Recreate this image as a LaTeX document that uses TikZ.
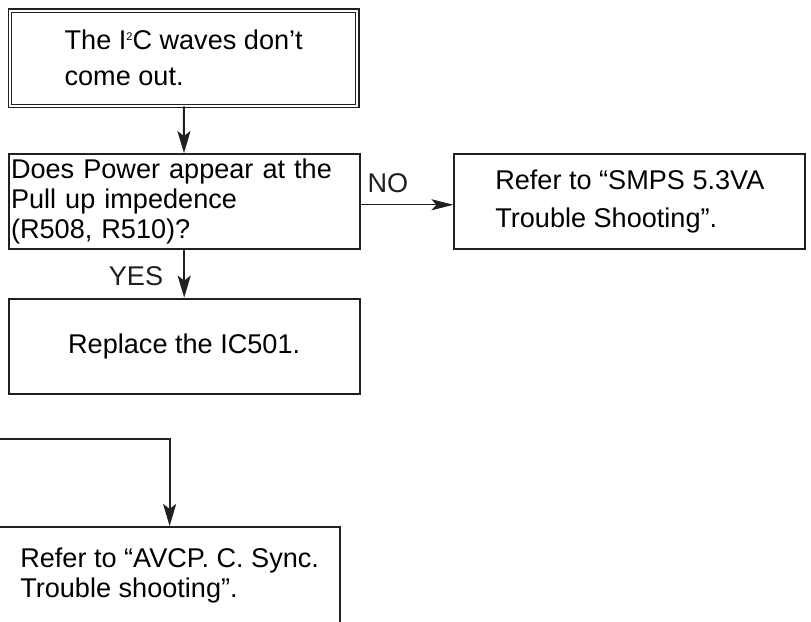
\documentclass[tikz,border=0pt]{standalone}
\usepackage{fontspec}
\setmainfont{Liberation Sans}
\usepackage{xcolor}
\usepackage{tikz}
\usetikzlibrary{arrows.meta, positioning, calc}
\definecolor{ink}{HTML}{231F20}

\begin{document}
\begin{tikzpicture}[
    x=1pt, y=-1pt,
    box/.style={draw=ink, line width=1.9pt, inner sep=0pt, minimum width=349.5pt, minimum height=95pt, align=left, font=\fontsize{27}{30}\selectfont},
    startbox/.style={box, line width=1.2pt, double, double distance=2pt, minimum width=346pt},
    tag/.style={inner sep=0pt, font=\fontsize{27}{29}\selectfont, text=ink},
    arrow/.style={-{Stealth[length=22pt, width=13pt, inset=5pt]}, line width=2pt, color=ink}
]
\clip (3,0) rectangle (811,619);
\useasboundingbox (0,0) rectangle (811,619);

% Start
\node[startbox, font=\fontsize{27}{36}\selectfont] (nowave) at (186,58) {The I\raisebox{9pt}{\fontsize{11}{11}\selectfont 2}C waves don't\\come out.};

% Check pull up
\node[box, text width=345pt] (pullup) at (186.5,201) {Does Power appear at the\\Pull up impedence\\(R508, R510)?};
\node[box] (ic501) at (186.5,345) {Replace the IC501.};
\node[box, font=\fontsize{27}{38}\selectfont] (smps) at (630.5,201) {Refer to “SMPS 5.3VA\\Trouble Shooting”.};

% Lower part
\coordinate (feed) at (0,437);
\node[box, minimum width=340pt, minimum height=97pt] (avcp) at (172,573.5) {Refer to “AVCP. C. Sync.\\Trouble shooting”.};

% Arrows
\draw[arrow] (nowave) -- (pullup);
\draw[arrow] (pullup) -- node[tag, midway, left=20pt, yshift=-2pt] {YES} (ic501);
\draw[arrow, line width=1pt, -{Stealth[length=22pt, width=11pt, inset=5pt]}] ([yshift=-3pt]pullup.east) -- node[tag, midway, above=11pt, xshift=-19pt] {NO} ([yshift=-3pt]smps.west);
\draw[arrow] (feed) -| (avcp.north);

\end{tikzpicture}
\end{document}
